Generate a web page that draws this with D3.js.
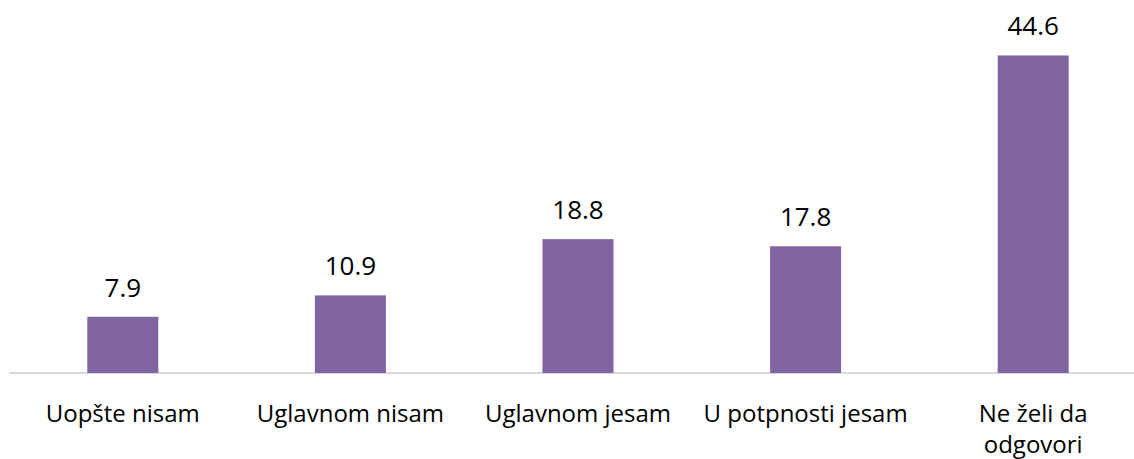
<!DOCTYPE html>
<html>
<head>
<meta charset="utf-8">
<script src="https://cdn.jsdelivr.net/npm/d3@7"></script>
<style>
  body { margin: 0; background: #fff; }
  svg text { font-family: "Open Sans", sans-serif; fill: #000; }
</style>
</head>
<body>
<svg id="chart"></svg>
<script>
const categories = ['Uopšte nisam', 'Uglavnom nisam', 'Uglavnom jesam', 'U potpnosti jesam', 'Ne želi da odgovori'];
const values = [7.9, 10.9, 18.8, 17.8, 44.6];

const width = 1134, height = 459;
const baseline = 373;

const svg = d3.select('#chart')
    .attr('width', width)
    .attr('height', height);

const xscale = d3.scaleBand()
    .domain(categories)
    .range([9, 1147])
    .paddingInner(0.688)
    .paddingOuter(0.344);

const yscale = d3.scaleLinear()
    .domain([0, 50])
    .range([baseline, baseline - 50 * 7.12]);

// baseline
svg.append('line')
    .attr('x1', 9)
    .attr('x2', width)
    .attr('y1', baseline)
    .attr('y2', baseline)
    .attr('stroke', '#d9d9d9')
    .attr('stroke-width', 2);

svg.selectAll('rect.bar')
    .data(values)
    .join('rect')
    .attr('class', 'bar')
    .attr('x', (d, i) => xscale(categories[i]))
    .attr('y', d => yscale(d))
    .attr('width', xscale.bandwidth())
    .attr('height', d => baseline - yscale(d))
    .attr('fill', '#8064a2');

svg.selectAll('text.val')
    .data(values)
    .join('text')
    .attr('class', 'val')
    .attr('x', (d, i) => xscale(categories[i]) + xscale.bandwidth() / 2)
    .attr('y', d => yscale(d) - 20)
    .attr('text-anchor', 'middle')
    .style('font-size', '26px')
    .text(d => d.toFixed(1));

// category labels, wrapped like the original
const maxw = 205;
const labels = svg.selectAll('text.cat')
    .data(categories)
    .join('text')
    .attr('class', 'cat')
    .attr('text-anchor', 'middle')
    .style('font-size', '24px')
    .attr('x', d => xscale(d) + xscale.bandwidth() / 2)
    .attr('y', 422);

labels.each(function(d) {
    const el = d3.select(this);
    const x = el.attr('x');
    const words = d.split(' ');
    let line = [];
    let tspan = el.append('tspan').attr('x', x).attr('dy', 0);
    words.forEach(w => {
        line.push(w);
        tspan.text(line.join(' '));
        if (tspan.node().getComputedTextLength() > maxw && line.length > 1) {
            line.pop();
            tspan.text(line.join(' '));
            line = [w];
            tspan = el.append('tspan').attr('x', x).attr('dy', 31).text(w);
        }
    });
});
</script>
</body>
</html>
